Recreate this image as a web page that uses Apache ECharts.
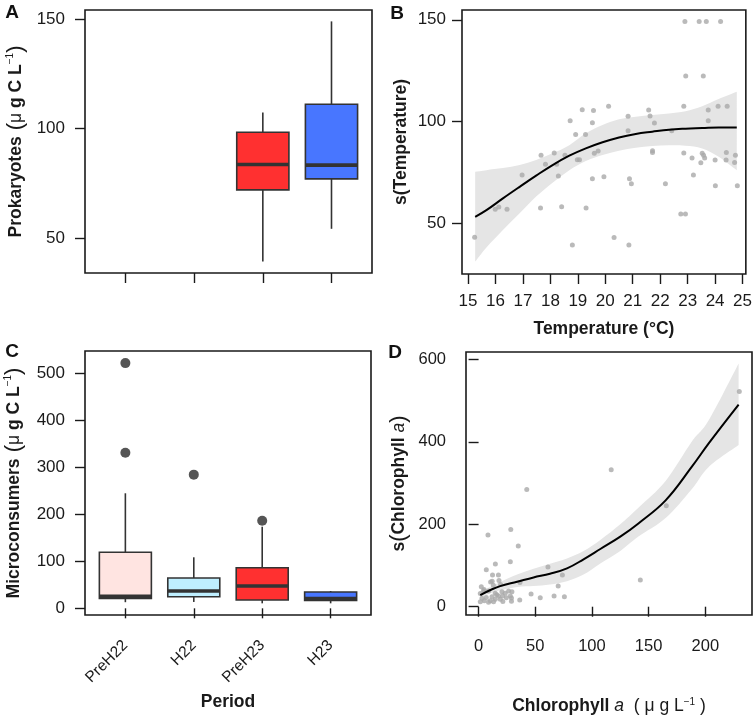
<!DOCTYPE html>
<html><head><meta charset="utf-8">
<script src="https://cdn.jsdelivr.net/npm/echarts@6/dist/echarts.min.js"></script>
<style>html,body{margin:0;padding:0;background:#fff}#c{width:755px;height:720px}</style>
</head><body><div id="c"></div>
<script>
// ---------- data ----------
const periods = ['PreH22', 'H22', 'PreH23', 'H23'];
const periodColors = ['#FFE4E1', '#BFEFFF', '#FF3030', '#4876FF'];
// [position, min, q1, median, q3, max]
const prokaryotesBoxes = [[3, 39.2, 72.0, 83.6, 98.3, 107.4], [4, 54.2, 77.0, 83.3, 111.1, 149.0]];
const prokaryotesColors = ['#FF3030', '#4876FF'];
const prokaryotesTicks = [50, 100, 150];
const microBoxes = [[1, 13.0, 21.2, 25.5, 119.0, 244.4], [2, 13.5, 24.6, 36.8, 64.4, 108.4], [3, 10.6, 17.6, 47.4, 86.3, 173.4], [4, 10.6, 16.5, 20.5, 34.6, 36.8]];
const microOutliers = [[1, 521], [1, 330.7], [2, 284], [3, 186]];
const microTicks = [0, 100, 200, 300, 400, 500];
const periodTicks = [1, 2, 3, 4];

const tempPoints = [
[15.24,43.0],[15.99,56.7],[16.12,57.9],[16.42,56.7],[16.97,73.6],[17.64,57.4],[17.66,83.3],[17.82,78.9],[18.14,84.4],[18.23,78.9],[18.29,73.1],[18.41,58.0],[18.53,83.3],[18.72,100.3],[18.80,39.2],[18.92,93.6],[18.98,81.1],[19.06,81.1],[19.16,105.7],[19.28,93.6],[19.30,57.4],[19.53,99.3],[19.57,105.4],[19.53,71.8],[19.60,84.3],[19.74,85.4],[19.95,72.8],[20.12,107.5],[20.32,42.8],[20.83,102.5],[20.83,95.4],[20.86,39.2],[20.88,71.8],[20.95,69.3],[21.58,105.6],[21.63,102.6],[21.72,85.5],[21.72,84.7],[21.79,99.2],[22.19,69.3],[22.42,95.4],[22.75,54.4],[22.86,84.4],[22.86,107.5],[22.90,149.2],[22.93,122.3],[22.92,54.4],[23.16,82.0],[23.21,73.6],[23.42,149.2],[23.48,79.6],[23.53,84.3],[23.57,122.3],[23.58,83.3],[23.62,82.0],[23.68,149.2],[23.75,105.6],[23.75,100.3],[24.00,81.0],[24.01,68.3],[24.11,107.4],[24.20,149.2],[24.40,81.0],[24.41,84.7],[24.44,107.4],[24.71,79.8],[24.74,83.3],[24.81,68.3]
];
const tempGrid  = [15.26, 15.67, 16.27, 16.88, 17.48, 18.08, 18.69, 19.29, 19.90, 20.50, 21.11, 21.71, 22.32, 22.92, 23.53, 24.13, 24.79];
const tempFit   = [53.0, 56.3, 62.1, 67.8, 73.3, 78.5, 83.1, 86.7, 89.7, 92.1, 93.8, 94.9, 95.9, 96.4, 96.7, 97.0, 97.0];
const tempUpper = [75.2, 76.0, 77.0, 78.5, 81.0, 84.3, 88.3, 94.1, 98.2, 101.0, 102.3, 103.1, 103.9, 105.0, 107.5, 111.0, 114.6];
const tempLower = [31.0, 38.0, 46.6, 54.8, 63.0, 69.8, 76.0, 80.5, 83.4, 85.6, 87.0, 87.9, 88.2, 88.0, 86.7, 82.6, 76.0];
const tempXTicks = [15, 16, 17, 18, 19, 20, 21, 22, 23, 24, 25];
const tempYTicks = [50, 100, 150];

const chlPoints = [
[230,522],[117,332],[42.5,284],[165.6,245],[28.4,187],[8.3,174],[35,147],[28,109],[14.8,103.4],[6.8,89.5],[61.2,96.5],[12.3,77],[17.5,77],[73.9,77],[142.7,64.7],[12,62],[18,63.5],[10.6,59.8],[36.5,58.5],[70.2,50.1],[13,51.8],[19.4,54],[2.4,48.5],[4.8,42],[46.3,31],[54.4,21.5],[66.6,25.9],[75.7,24],[36.3,16.5],[29,21],[29,13.5],[21.4,12.5],
[1.5,32],[8.8,38],[14.7,32.4],[20.6,36.3],[23.5,32.4],[26.5,38],[29.4,36.3],[28,26],[21.2,26],[17.6,26],[11.8,24],[6.8,22.6],[3,20.3],[5,14.5],[1.5,12],[10.3,14.5],[14.7,18],[8.8,10.7],[13.2,12],[19.1,18],[24.5,22],[4.4,38.8],[16,29]
];
const chlGrid  = [1.5, 10, 19, 34, 48.5, 63, 78, 92.6, 107.4, 125, 141, 165, 188, 203, 229.4];
const chlFit   = [28.3, 40, 50, 60.6, 71, 80, 93, 115, 140, 170, 202, 258, 339, 396, 490];
const chlUpper = [36, 48, 60, 78, 92, 104, 117, 135, 162, 200, 240, 305, 400, 452, 590];
const chlLower = [22, 32, 40, 48, 50, 54, 62, 78, 105, 135, 170, 215, 285, 339, 392];
const chlXTicks = [0, 50, 100, 150, 200];
const chlYTicks = [0, 200, 400, 600];

// ---------- helpers ----------
const FONT = "'Liberation Sans', Arial, Helvetica, sans-serif";
const INK = '#1a1a1a';
const toPairs = (xs, ys) => xs.map((x, i) => [x, ys[i]]);

const nameRich = {
  b: { fontWeight: 'bold', fontSize: 17.5, fontFamily: FONT, color: INK },
  n: { fontSize: 17.5, fontFamily: FONT, color: INK },
  i: { fontSize: 17.5, fontStyle: 'italic', fontFamily: FONT, color: INK },
  p: { fontSize: 22, fontFamily: FONT, color: INK },
  s: { fontSize: 10, fontFamily: FONT, color: INK, verticalAlign: 'top', padding: [0, 0, 6, 0] }
};

function axis(opt) {
  return Object.assign({
    type: 'value',
    splitLine: { show: false },
    axisLine: { show: false },
    nameTextStyle: { fontFamily: FONT, fontSize: 17.5, color: INK, rich: nameRich },
    nameLocation: 'middle'
  }, opt);
}
function ticks(vals) {
  return { show: true, length: 10, customValues: vals, lineStyle: { color: INK, width: 1.4 } };
}
function labels(vals, extra) {
  return Object.assign({ color: INK, fontSize: 17, fontFamily: FONT, customValues: vals }, extra);
}

function boxRender(colors) {
  return function (params, api) {
    const x = api.value(0);
    const pMin = api.coord([x, api.value(1)]);
    const pQ1 = api.coord([x, api.value(2)]);
    const pMd = api.coord([x, api.value(3)]);
    const pQ3 = api.coord([x, api.value(4)]);
    const pMax = api.coord([x, api.value(5)]);
    const left = api.coord([x - 0.38, api.value(3)])[0];
    const right = api.coord([x + 0.38, api.value(3)])[0];
    const cx = pMd[0];
    const stroke = '#333333';
    return {
      type: 'group', children: [
        { type: 'line', shape: { x1: cx, y1: pMin[1], x2: cx, y2: pQ1[1] }, style: { stroke, lineWidth: 1.6 } },
        { type: 'line', shape: { x1: cx, y1: pQ3[1], x2: cx, y2: pMax[1] }, style: { stroke, lineWidth: 1.6 } },
        { type: 'rect', shape: { x: left, y: pQ3[1], width: right - left, height: pQ1[1] - pQ3[1] }, style: { fill: colors[params.dataIndex], stroke, lineWidth: 1.6 } },
        { type: 'line', shape: { x1: left, y1: pMd[1], x2: right, y2: pMd[1] }, style: { stroke, lineWidth: 3.6 } }
      ]
    };
  };
}

function curveThrough(pts) {
  let d = '';
  for (let i = 0; i < pts.length - 1; i++) {
    const p0 = pts[i - 1] || pts[i], p1 = pts[i], p2 = pts[i + 1], p3 = pts[i + 2] || pts[i + 1];
    const c1x = p1[0] + (p2[0] - p0[0]) / 6, c1y = p1[1] + (p2[1] - p0[1]) / 6;
    const c2x = p2[0] - (p3[0] - p1[0]) / 6, c2y = p2[1] - (p3[1] - p1[1]) / 6;
    d += ' C ' + c1x + ' ' + c1y + ' ' + c2x + ' ' + c2y + ' ' + p2[0] + ' ' + p2[1];
  }
  return d;
}
function bandRender(xs, up, lo) {
  return function (params, api) {
    const u = xs.map((x, i) => api.coord([x, up[i]]));
    const l = xs.map((x, i) => api.coord([x, lo[i]])).reverse();
    const d = 'M ' + u[0][0] + ' ' + u[0][1] + curveThrough(u) + ' L ' + l[0][0] + ' ' + l[0][1] + curveThrough(l) + ' Z';
    return { type: 'path', shape: { pathData: d }, style: { fill: '#E5E5E5', stroke: null } };
  };
}

const gridBase = { show: true, borderColor: INK, borderWidth: 1.6, backgroundColor: 'transparent', containLabel: false };
const letter = (t, x, y) => ({ type: 'text', x, y, style: { text: t, fill: '#111', font: 'bold 19px ' + FONT, align: 'center', verticalAlign: 'middle' } });

const option = {
  animation: false,
  backgroundColor: '#ffffff',
  grid: [
    Object.assign({ left: 85, top: 10, width: 287, height: 263 }, gridBase),
    Object.assign({ left: 462, top: 10, width: 285, height: 264 }, gridBase),
    Object.assign({ left: 85, top: 351, width: 286, height: 264 }, gridBase),
    Object.assign({ left: 466, top: 352, width: 286, height: 263 }, gridBase)
  ],
  xAxis: [
    axis({ gridIndex: 0, min: 0.41, max: 4.59, axisTick: ticks(periodTicks), axisLabel: { show: false, customValues: periodTicks } }),
    axis({ gridIndex: 1, min: 14.78, max: 25.12, name: '{b|Temperature (°C)}', nameGap: 46,
      axisTick: ticks(tempXTicks), axisLabel: labels(tempXTicks, { margin: 19 }) }),
    axis({ gridIndex: 2, min: 0.41, max: 4.59, name: '{b|Period}', nameGap: 78,
      axisTick: ticks(periodTicks),
      axisLabel: labels(periodTicks, { fontSize: 15.5, margin: 28, rotate: 45, formatter: v => periods[Math.round(v) - 1] }) }),
    axis({ gridIndex: 3, min: -11.1, max: 241.2, name: '{b|Chlorophyll}{i| a}{n|  ( μ g L}{s|−1}{n| )}', nameGap: 82,
      axisTick: ticks(chlXTicks), axisLabel: labels(chlXTicks, { fontSize: 16.5, margin: 23 }) })
  ],
  yAxis: [
    axis({ gridIndex: 0, min: 34, max: 154.2, name: '{b|Prokaryotes}{p| (}{n|μ}{b| g C L}{s|−1}{p|)}', nameGap: 58,
      axisTick: ticks(prokaryotesTicks), axisLabel: labels(prokaryotesTicks, { margin: 20 }) }),
    axis({ gridIndex: 1, min: 24.9, max: 154.8, name: '{b|s(Temperature)}', nameGap: 52,
      axisTick: ticks(tempYTicks), axisLabel: labels(tempYTicks, { margin: 16 }) }),
    axis({ gridIndex: 2, min: -14.2, max: 546.7, name: '{b|Microconsumers}{p| (}{n|μ}{b| g C L}{s|−1}{p|)}', nameGap: 60,
      axisTick: ticks(microTicks), axisLabel: labels(microTicks, { margin: 20 }) }),
    axis({ gridIndex: 3, min: -20.1, max: 617.7, name: '{b|s}{p|(}{b|Chlorophyll}{i| a}{p|)}', nameGap: 56,
      axisTick: ticks(chlYTicks), axisLabel: labels(chlYTicks, { fontSize: 16.5, margin: 20 }) })
  ],
  series: [
    { type: 'custom', xAxisIndex: 0, yAxisIndex: 0, data: prokaryotesBoxes, renderItem: boxRender(prokaryotesColors), z: 3 },
    { type: 'custom', xAxisIndex: 2, yAxisIndex: 2, data: microBoxes, renderItem: boxRender(periodColors), z: 3 },
    { type: 'scatter', xAxisIndex: 2, yAxisIndex: 2, data: microOutliers, symbolSize: 10, itemStyle: { color: '#2b2b2b' }, z: 4 },
    { type: 'custom', xAxisIndex: 1, yAxisIndex: 1, data: [[tempGrid[0], tempFit[0]]], renderItem: bandRender(tempGrid, tempUpper, tempLower), z: 1, silent: true },
    { type: 'scatter', xAxisIndex: 1, yAxisIndex: 1, data: tempPoints, symbolSize: 5, itemStyle: { color: '#A9A9A9' }, z: 2 },
    { type: 'line', xAxisIndex: 1, yAxisIndex: 1, data: toPairs(tempGrid, tempFit), smooth: 0.4, showSymbol: false,
      lineStyle: { color: '#000', width: 2 }, z: 5 },
    { type: 'custom', xAxisIndex: 3, yAxisIndex: 3, data: [[chlGrid[0], chlFit[0]]], renderItem: bandRender(chlGrid, chlUpper, chlLower), z: 1, silent: true },
    { type: 'scatter', xAxisIndex: 3, yAxisIndex: 3, data: chlPoints, symbolSize: 5, itemStyle: { color: '#A9A9A9' }, z: 2 },
    { type: 'line', xAxisIndex: 3, yAxisIndex: 3, data: toPairs(chlGrid, chlFit), smooth: 0.4, showSymbol: false,
      lineStyle: { color: '#000', width: 2 }, z: 5 }
  ],
  graphic: [letter('A', 12, 13), letter('B', 397, 14), letter('C', 12, 352), letter('D', 395, 353)]
};

const chart = echarts.init(document.getElementById('c'), null, { renderer: 'canvas' });
chart.setOption(option);
</script>
</body></html>
